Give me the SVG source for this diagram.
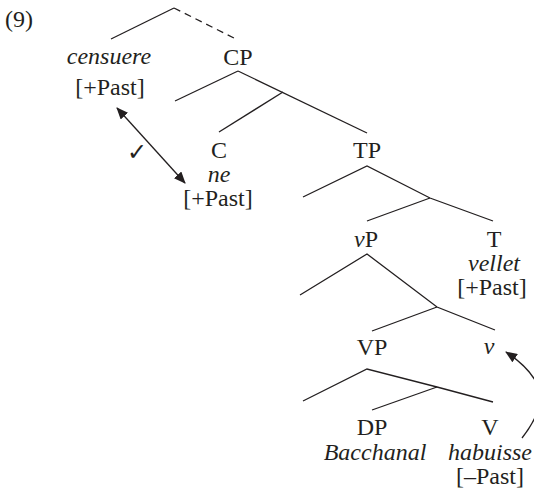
<svg xmlns="http://www.w3.org/2000/svg" width="534" height="491" viewBox="0 0 534 491">
<defs>
<style>
text{font-size:24px;fill:#231f20;text-anchor:middle}
.i{font-style:italic}
.edge{stroke:#231f20;stroke-width:1.3;fill:none}
.dash{stroke-dasharray:7 5}
</style>
<marker id="ah" viewBox="0 0 12 10" refX="11" refY="5" markerWidth="12" markerHeight="10" markerUnits="userSpaceOnUse" orient="auto-start-reverse">
<path d="M0,0 L12,5 L0,10 Z" fill="#231f20"/>
</marker>
</defs>
<g font-family="'Liberation Serif', 'Times New Roman', serif">
<text x="5" y="27" style="text-anchor:start">(9)</text>
<g id="connectors">
<line class="edge" x1="111" y1="39" x2="174" y2="8"/>
<line class="edge dash" x1="174" y1="8" x2="238" y2="40"/>
<line class="edge" x1="238" y1="71" x2="175" y2="101"/>
<line class="edge" x1="238" y1="71" x2="367" y2="133"/>
<line class="edge" x1="283" y1="92" x2="219" y2="132"/>
<polyline class="edge" points="303,197 367,166 430,198 493,221"/>
<line class="edge" x1="430" y1="198" x2="367" y2="221"/>
<polyline class="edge" points="300,295 367,254 437,307 495,330"/>
<line class="edge" x1="437" y1="307" x2="372" y2="331"/>
<polyline class="edge" points="303,401 367,369 437,387 493,402"/>
<line class="edge" x1="437" y1="387" x2="372" y2="410"/>
<line class="edge" x1="117" y1="108" x2="185" y2="183" marker-start="url(#ah)" marker-end="url(#ah)"/>
<path class="edge" d="M522,438 C548,405 548,380 506,352" marker-end="url(#ah)"/>
</g>
<text x="137" y="160" font-family="'DejaVu Sans', sans-serif" font-size="17">✓</text>
<g id="censuere"><text class="i" x="109" y="64">censuere</text><text x="110" y="95">[+Past]</text></g>
<g id="CP"><text x="238" y="65">CP</text></g>
<g id="C"><text x="219" y="158">C</text><text class="i" x="219" y="182">ne</text><text x="218" y="206">[+Past]</text></g>
<g id="TP"><text x="367" y="158">TP</text></g>
<g id="vP"><text x="366" y="247"><tspan class="i">v</tspan>P</text></g>
<g id="T"><text x="494" y="247">T</text><text class="i" x="494" y="271">vellet</text><text x="492" y="295">[+Past]</text></g>
<g id="VP"><text x="372" y="355">VP</text></g>
<g id="v"><text class="i" x="489" y="354">v</text></g>
<g id="DP"><text x="372" y="435">DP</text><text class="i" x="375" y="460">Bacchanal</text></g>
<g id="V"><text x="490" y="435">V</text><text class="i" x="490" y="460">habuisse</text><text x="490" y="484">[–Past]</text></g>
</g>
</svg>
